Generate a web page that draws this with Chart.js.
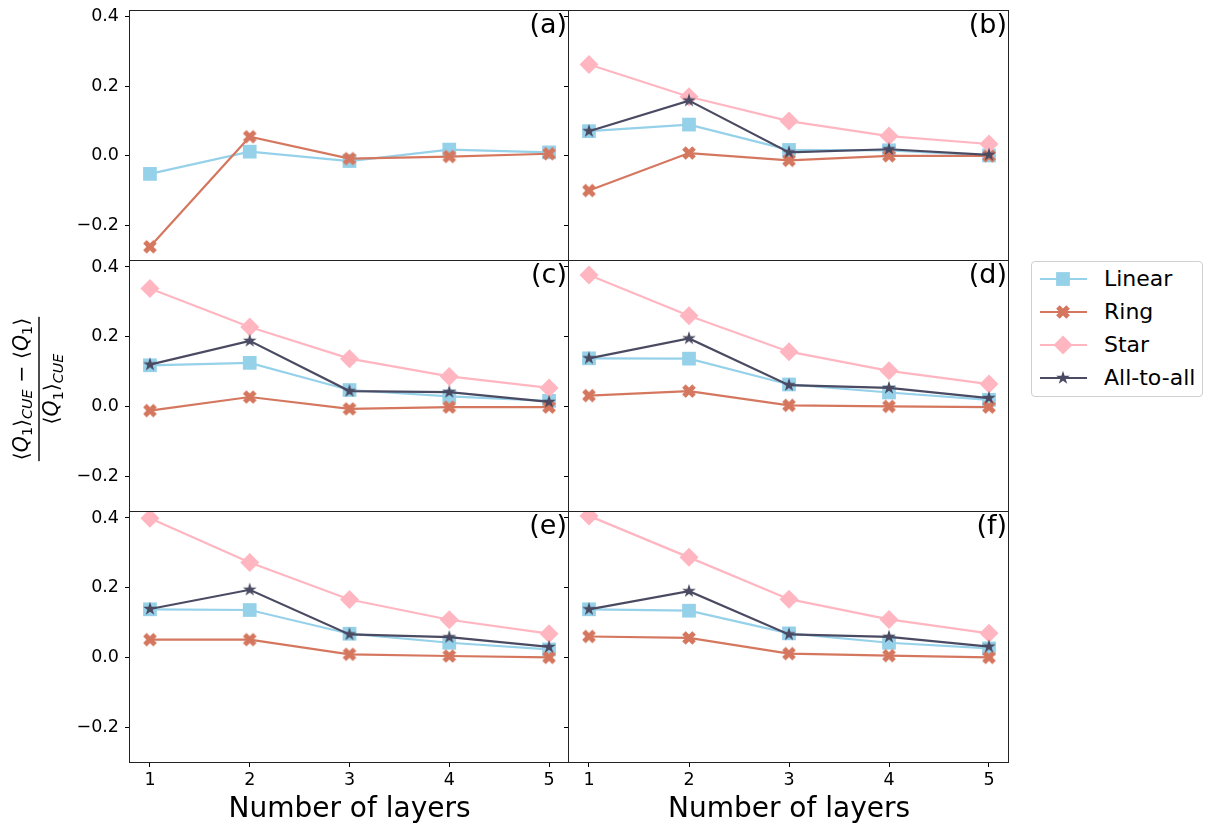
<!DOCTYPE html>
<html>
<head>
<meta charset="utf-8">
<script src="https://cdn.jsdelivr.net/npm/chart.js@4.4.0/dist/chart.umd.min.js"></script>
<style>
  body { margin: 0; background: #fff; width: 1208px; height: 828px; position: relative; overflow: hidden; font-family: 'DejaVu Sans', sans-serif; }
  canvas.panel { position: absolute; }
  #legend { position: absolute; left: 1031px; top: 261px; width: 170px; height: 134px; border: 1px solid #d0d0d0; border-radius: 4px; background: #fff; }
  .lg-line { position: absolute; left: 8px; width: 47px; height: 2px; }
  .lg-mark { position: absolute; left: 20px; }
  .lg-text { position: absolute; left: 72px; font-size: 22px; line-height: 26px; color: #000; white-space: nowrap; }
</style>
</head>
<body>
<div id="legend"></div>
<script>
// DATA
const layers = [1, 2, 3, 4, 5];
const xTicks = [1, 2, 3, 4, 5];
const yTicks = [-0.2, 0.0, 0.2, 0.4];
const panelLabels = ['(a)', '(b)', '(c)', '(d)', '(e)', '(f)'];
const seriesNames = ['Linear', 'Ring', 'Star', 'All-to-all'];

// one row per panel (a)..(f); null = series not plotted in that panel
const linear = [
  [-0.052, 0.012, -0.015, 0.018, 0.010],
  [0.071, 0.090, 0.017, 0.016, 0.001],
  [0.118, 0.125, 0.047, 0.029, 0.016],
  [0.138, 0.137, 0.063, 0.040, 0.019],
  [0.138, 0.136, 0.068, 0.042, 0.023],
  [0.138, 0.134, 0.069, 0.042, 0.026]
];
const ring = [
  [-0.262, 0.055, -0.008, -0.002, 0.006],
  [-0.100, 0.008, -0.013, 0.000, 0.000],
  [-0.012, 0.027, -0.007, -0.002, -0.002],
  [0.031, 0.044, 0.003, 0.000, -0.002],
  [0.051, 0.051, 0.009, 0.004, 0.000],
  [0.060, 0.056, 0.011, 0.005, 0.000]
];
const star = [
  null,
  [0.263, 0.170, 0.100, 0.057, 0.034],
  [0.338, 0.228, 0.137, 0.086, 0.053],
  [0.377, 0.260, 0.157, 0.102, 0.064],
  [0.399, 0.272, 0.166, 0.108, 0.068],
  [0.406, 0.287, 0.167, 0.109, 0.069]
];
const allToAll = [
  null,
  [0.071, 0.159, 0.010, 0.019, 0.003],
  [0.120, 0.188, 0.044, 0.041, 0.013],
  [0.138, 0.195, 0.061, 0.053, 0.024],
  [0.139, 0.194, 0.066, 0.058, 0.030],
  [0.138, 0.190, 0.066, 0.059, 0.031]
];

const colors = ['#96d1ea', '#d5775f', '#ffb6c1', '#4a4a62'];
const FONT = "'DejaVu Sans', sans-serif";
Chart.defaults.font.family = FONT;
Chart.defaults.color = '#000';

// MARKERS
function shapeCanvas(draw) {
  const c = document.createElement('canvas');
  c.width = 22; c.height = 22;
  const ctx = c.getContext('2d');
  ctx.translate(11, 11);
  draw(ctx);
  return c;
}
function filledX(color) {
  return shapeCanvas(ctx => {
    const s = 7.2, t = 2.5;
    ctx.rotate(Math.PI / 4);
    ctx.beginPath();
    [[t,s],[t,t],[s,t],[s,-t],[t,-t],[t,-s],[-t,-s],[-t,-t],[-s,-t],[-s,t],[-t,t],[-t,s]]
      .forEach(([x, y], i) => i ? ctx.lineTo(x, y) : ctx.moveTo(x, y));
    ctx.closePath();
    ctx.fillStyle = color;
    ctx.fill();
  });
}
function filledStar(color) {
  return shapeCanvas(ctx => {
    const R = 7.2, r = R * 0.382;
    ctx.beginPath();
    for (let i = 0; i < 10; i++) {
      const a = -Math.PI / 2 + i * Math.PI / 5;
      const d = i % 2 ? r : R;
      const px = Math.cos(a) * d, py = Math.sin(a) * d;
      i ? ctx.lineTo(px, py) : ctx.moveTo(px, py);
    }
    ctx.closePath();
    ctx.fillStyle = color;
    ctx.fill();
  });
}
function legendShape(k) {
  if (k === 1) return filledX(colors[1]);
  if (k === 3) return filledStar(colors[3]);
  return shapeCanvas(ctx => {
    ctx.fillStyle = colors[k];
    if (k === 0) { ctx.fillRect(-6.9, -6.9, 13.8, 13.8); return; }
    ctx.beginPath();
    ctx.moveTo(0, -9.5); ctx.lineTo(9.5, 0); ctx.lineTo(0, 9.5); ctx.lineTo(-9.5, 0);
    ctx.closePath(); ctx.fill();
  });
}

const pointStyles = [
  { pointStyle: 'rect', pointRadius: 9.7 },
  { pointStyle: filledX(colors[1]), pointRadius: 7 },
  { pointStyle: 'rectRot', pointRadius: 9.5 },
  { pointStyle: filledStar(colors[3]), pointRadius: 7 }
];
const series = [linear, ring, star, allToAll];

// LAYOUT (chart area boxes)
const cols = [[130, 569], [569, 1009]];
const rows = [[10, 260], [260, 511], [511, 762]];

const fmtTick = v => v.toFixed(1).replace('-', '\u2212');

// outer frame of each panel
const framePlugin = {
  id: 'frame',
  afterDatasetsDraw(chart) {
    const a = chart.chartArea, ctx = chart.ctx;
    ctx.save();
    ctx.strokeStyle = '#222';
    ctx.lineWidth = 1;
    ctx.strokeRect(Math.round(a.left) - 0.5, Math.round(a.top) + 0.5, Math.round(a.right - a.left), Math.round(a.bottom - a.top));
    ctx.restore();
  }
};

// panel letter in the upper right corner
function letterPlugin(text) {
  return {
    id: 'letter',
    afterDraw(chart) {
      const a = chart.chartArea, ctx = chart.ctx;
      ctx.save();
      ctx.font = '27px ' + FONT;
      ctx.fillStyle = '#000';
      ctx.textAlign = 'right';
      ctx.textBaseline = 'alphabetic';
      ctx.fillText(text, a.right - 2, a.top + 23);
      ctx.restore();
    }
  };
}

// rotated fraction used as the shared y-axis label
const numer = [
  { t: '\u27e8' }, { t: 'Q', it: true }, { t: '1', sub: true }, { t: '\u27e9' }, { t: 'CUE', it: true, sub: true },
  { t: ' \u2212 ' },
  { t: '\u27e8' }, { t: 'Q', it: true }, { t: '1', sub: true }, { t: '\u27e9' }
];
const denom = [
  { t: '\u27e8' }, { t: 'Q', it: true }, { t: '1', sub: true }, { t: '\u27e9' }, { t: 'CUE', it: true, sub: true }
];
function partFont(p, size) {
  const s = p.sub ? size * 0.7 : size;
  return (p.it ? 'italic ' : '') + s + 'px ' + FONT;
}
function mathWidth(ctx, parts, size) {
  return parts.reduce((w, p) => { ctx.font = partFont(p, size); return w + ctx.measureText(p.t).width; }, 0);
}
function drawMath(ctx, parts, x, y, size) {
  parts.forEach(p => {
    ctx.font = partFont(p, size);
    ctx.fillText(p.t, x, p.sub ? y + size * 0.22 : y);
    x += ctx.measureText(p.t).width;
  });
}
function yLabelPlugin(cx, cy) {
  return {
    id: 'ylabel',
    afterDraw(chart) {
      const ctx = chart.ctx, size = 20.5;
      ctx.save();
      ctx.translate(cx, cy);
      ctx.rotate(-Math.PI / 2);
      ctx.fillStyle = '#000';
      ctx.textBaseline = 'alphabetic';
      const wn = mathWidth(ctx, numer, size), wd = mathWidth(ctx, denom, size);
      drawMath(ctx, numer, -wn / 2, -11.5, size);
      drawMath(ctx, denom, -wd / 2, 19, size);
      ctx.fillRect(-wn / 2 - 1, -0.7, wn + 2, 1.4);
      ctx.restore();
    }
  };
}

function makePanel(p) {
  const r = Math.floor(p / 2), c = p % 2;
  const [x0, x1] = cols[c], [y0, y1] = rows[r];
  const wy = c === 0 ? 130 : 20;
  const hx = r === 2 ? 828 - y1 : 10;
  const left = x0 - wy, top = y0 - 10;
  const cw = x1 - left + 6, ch = 10 + (y1 - y0) + hx;

  const cv = document.createElement('canvas');
  cv.className = 'panel';
  cv.width = cw; cv.height = ch;
  cv.style.left = left + 'px'; cv.style.top = top + 'px';
  cv.style.width = cw + 'px'; cv.style.height = ch + 'px';
  document.body.appendChild(cv);

  const datasets = [];
  series.forEach((s, k) => {
    if (!s[p]) return;
    datasets.push({
      label: seriesNames[k],
      data: layers.map((x, i) => ({ x, y: s[p][i] })),
      borderColor: colors[k],
      backgroundColor: colors[k],
      pointBackgroundColor: colors[k],
      pointBorderWidth: 0,
      borderWidth: 2.2,
      pointStyle: pointStyles[k].pointStyle,
      pointRadius: pointStyles[k].pointRadius,
      pointHoverRadius: pointStyles[k].pointRadius,
      order: 3 - k,
      tension: 0
    });
  });

  const plugins = [framePlugin, letterPlugin(panelLabels[p])];
  if (p === 2) plugins.push(yLabelPlugin(39, 389 - top));

  new Chart(cv, {
    type: 'line',
    data: { datasets },
    plugins,
    options: {
      responsive: false,
      animation: false,
      events: [],
      layout: { autoPadding: false, padding: { left: 0, right: 6, top: 10, bottom: 0 } },
      plugins: { legend: { display: false }, tooltip: { enabled: false } },
      scales: {
        x: {
          type: 'linear', min: 0.8, max: 5.2,
          afterBuildTicks: s => { s.ticks = xTicks.map(v => ({ value: v })); },
          afterFit: s => { s.height = hx; s.paddingLeft = 0; s.paddingRight = 0; },
          border: { display: false },
          grid: { drawOnChartArea: false, drawTicks: r === 2, tickLength: 5, color: '#000', lineWidth: 1 },
          ticks: { display: r === 2, font: { size: 17.5 }, color: '#000', padding: 3, maxRotation: 0, autoSkip: false },
          title: { display: r === 2, text: 'Number of layers', font: { size: 28 }, color: '#000', padding: { top: 0, bottom: 1 } }
        },
        y: {
          type: 'linear', min: -0.3, max: 0.42,
          afterBuildTicks: s => { s.ticks = yTicks.map(v => ({ value: v })); },
          afterFit: s => { s.width = wy; s.paddingTop = 0; s.paddingBottom = 0; },
          border: { display: false },
          grid: { drawOnChartArea: false, drawTicks: true, tickLength: 5, color: '#000', lineWidth: 1 },
          ticks: { display: c === 0, font: { size: 17.5 }, color: '#000', padding: 6, callback: v => fmtTick(v) }
        }
      }
    }
  });
}

for (let p = 0; p < 6; p++) makePanel(p);

// LEGEND
const legend = document.getElementById('legend');
seriesNames.forEach((name, k) => {
  const cy = 17 + k * 33;
  const line = document.createElement('div');
  line.className = 'lg-line';
  line.style.top = (cy - 1) + 'px';
  line.style.background = colors[k];
  legend.appendChild(line);
  const mk = legendShape(k);
  mk.className = 'lg-mark';
  mk.style.top = (cy - 11) + 'px';
  legend.appendChild(mk);
  const tx = document.createElement('div');
  tx.className = 'lg-text';
  tx.style.top = (cy - 13) + 'px';
  tx.textContent = name;
  legend.appendChild(tx);
});
</script>
</body>
</html>
